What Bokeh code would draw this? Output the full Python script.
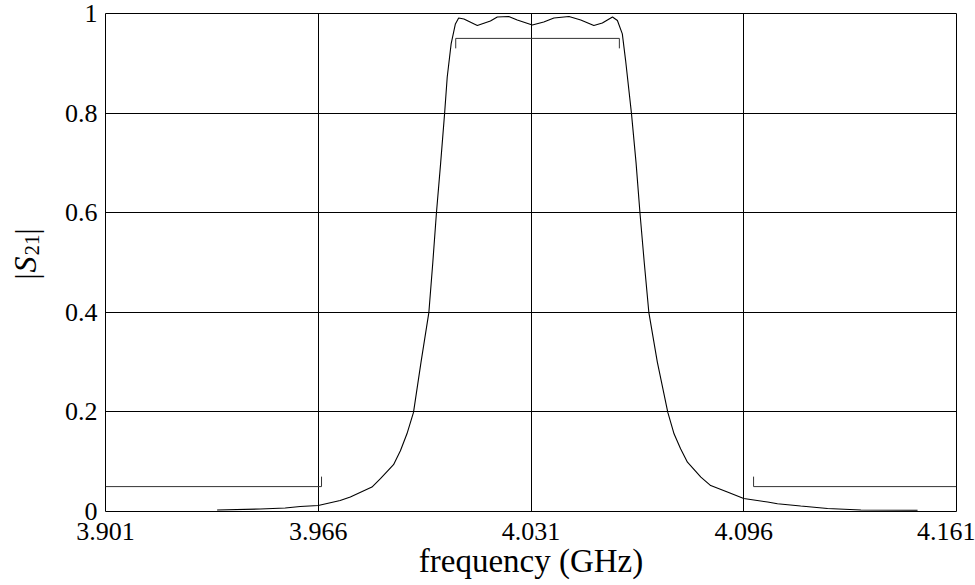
import math
from bokeh.plotting import figure
from bokeh.layouts import row
from bokeh.models import FixedTicker, PrintfTickFormatter, Label, Range1d
from bokeh.embed import file_html
from bokeh.resources import INLINE

# ---- data ----
freq = [3.9351, 3.9483, 3.9559, 3.9605, 3.9660, 3.9727, 3.9758, 3.9824, 3.9850,
        3.9890, 3.9911, 3.9931, 3.9951, 3.9974, 3.9998, 4.0010, 4.0021, 4.0034,
        4.0046, 4.0054, 4.0066, 4.0079, 4.0089, 4.0105, 4.0146, 4.0186, 4.0207,
        4.0242, 4.0268, 4.0314, 4.0349, 4.0380, 4.0426, 4.0462, 4.0502, 4.0528,
        4.0559, 4.0574, 4.0589, 4.0599, 4.0617, 4.0631, 4.0643, 4.0656, 4.0670,
        4.0696, 4.0728, 4.0747, 4.0767, 4.0788, 4.0829, 4.0859, 4.0910, 4.0960,
        4.1033, 4.1063, 4.1134, 4.1216, 4.1318, 4.1491]
s21 = [0.003, 0.005, 0.007, 0.010, 0.012, 0.022, 0.029, 0.049, 0.066,
       0.094, 0.122, 0.156, 0.199, 0.300, 0.400, 0.500, 0.599, 0.700,
       0.799, 0.872, 0.939, 0.979, 0.991, 0.989, 0.976, 0.985, 0.993,
       0.994, 0.987, 0.977, 0.983, 0.991, 0.994, 0.987, 0.976, 0.981,
       0.993, 0.986, 0.959, 0.906, 0.799, 0.700, 0.599, 0.500, 0.400,
       0.300, 0.199, 0.156, 0.126, 0.099, 0.069, 0.052, 0.039, 0.026,
       0.019, 0.0155, 0.011, 0.006, 0.003, 0.0026]

mask_low_x = [3.901, 3.967, 3.967]
mask_low_y = [0.05, 0.05, 0.07]
mask_high_x = [4.099, 4.099, 4.161]
mask_high_y = [0.07, 0.05, 0.05]
mask_pass_x = [4.008, 4.008, 4.058, 4.058]
mask_pass_y = [0.93, 0.95, 0.95, 0.93]

x_ticks = [3.901, 3.966, 4.031, 4.096, 4.161]
y_ticks = [0, 0.2, 0.4, 0.6, 0.8, 1]
y_tick_labels = ["0", "0.2", "0.4", "0.6", "0.8", "1"]

FONT = "Liberation Serif"
LABEL_W = 55
TOP, BOTTOM = 13, 74

# ---- main chart ----
p = figure(width=975 - LABEL_W, height=585, output_backend="svg", toolbar_location=None,
           x_range=Range1d(3.901, 4.161), y_range=Range1d(0, 1),
           min_border_left=105 - LABEL_W, min_border_right=19, min_border_top=TOP,
           min_border_bottom=BOTTOM)
p.background_fill_color = "white"
p.border_fill_color = "white"
p.outline_line_color = "black"
p.outline_line_width = 1

p.line(freq, s21, line_color="black", line_width=1.1)
p.line(mask_low_x, mask_low_y, line_color="#333333", line_width=1)
p.line(mask_high_x, mask_high_y, line_color="#333333", line_width=1)
p.line(mask_pass_x, mask_pass_y, line_color="#333333", line_width=1)

p.xaxis.ticker = FixedTicker(ticks=x_ticks)
p.xaxis.formatter = PrintfTickFormatter(format="%.3f")
p.yaxis.ticker = FixedTicker(ticks=y_ticks)
p.yaxis.major_label_overrides = {t: l for t, l in zip(y_ticks, y_tick_labels)}
p.xgrid.ticker = FixedTicker(ticks=x_ticks)
p.ygrid.ticker = FixedTicker(ticks=y_ticks)
p.grid.grid_line_color = "black"
p.grid.grid_line_alpha = 1
p.grid.grid_line_width = 1

for ax in (p.xaxis[0], p.yaxis[0]):
    ax.axis_line_color = None
    ax.major_tick_line_color = None
    ax.minor_tick_line_color = None
    ax.major_tick_out = 0
    ax.major_tick_in = 0
    ax.major_label_text_font = FONT
    ax.major_label_text_color = "black"
    ax.major_label_text_font_size = "26px"

p.xaxis.major_label_standoff = 11
p.yaxis.major_label_standoff = 8
p.xaxis.axis_label = "frequency (GHz)"
p.xaxis.axis_label_text_font = FONT
p.xaxis.axis_label_text_font_size = "33px"
p.xaxis.axis_label_text_font_style = "normal"
p.xaxis.axis_label_text_color = "black"
p.xaxis.axis_label_standoff = 0

# ---- narrow panel holding the rotated y-axis title |S21| (same vertical scale) ----
lab = figure(width=LABEL_W, height=585, output_backend="svg", toolbar_location=None,
             x_range=Range1d(0, LABEL_W), y_range=p.y_range,
             x_axis_type=None, y_axis_type=None,
             min_border_left=0, min_border_right=0,
             min_border_top=TOP, min_border_bottom=BOTTOM)
lab.outline_line_color = None
lab.grid.visible = False
lab.background_fill_color = "white"
lab.border_fill_color = "white"

ang = math.pi / 2
# (text, x offset in px, vertical position on the |S21| value scale, size, style)
pieces = [
    ("|", 26, 0.4659, "31px", "normal"),
    ("S", 24, 0.4799, "32px", "italic"),
    ("21", 31, 0.5141, "21px", "normal"),
    ("|", 26, 0.5562, "31px", "normal"),
]
for txt, sx, vy, fs, st in pieces:
    lab.add_layout(Label(x=sx, y=vy, x_units="screen", y_units="data", text=txt,
                         angle=ang, text_font=FONT, text_font_size=fs,
                         text_font_style=st, text_align="left",
                         text_baseline="alphabetic", text_color="black"))

layout = row(lab, p, spacing=0)
open("out.html", "w").write(file_html(layout, INLINE))
